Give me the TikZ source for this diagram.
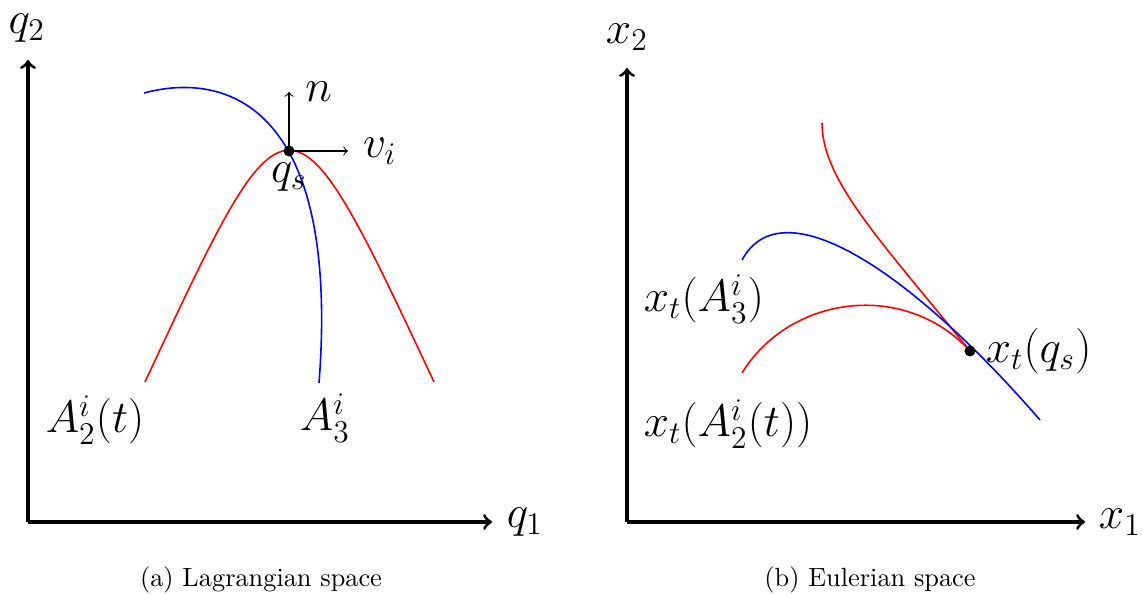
\documentclass[tikz,border=0pt]{standalone}
\usepackage{amsmath}
\usepackage{amssymb}
\usetikzlibrary{arrows}
\usetikzlibrary{positioning}

\begin{document}
\begin{tikzpicture}[x=0.38pt, y=0.38pt,
	axis/.style={->, very thick},
	vec/.style={->},
	curve/.style={semithick},
	lbl/.style={font=\fontsize{18}{22}\selectfont, inner sep=2pt},
	dot/.style={circle, fill, inner sep=0pt, minimum size=4.2pt}]

	\useasboundingbox (0,0) rectangle (1143,594);

	%Lagrangian space

	\coordinate (O1) at (28,72);
	\coordinate (q2tip) at (28,534);
	\coordinate (q1tip) at (492,72);
	\draw[axis] (O1) -- (q2tip);
	\draw[axis] (O1) -- (q1tip);
	\node[lbl] (q2) at (27,566) {$q_2$};
	\node[lbl] (q1) at (525,72) {$q_1$};

	\coordinate (qs) at (289,443);
	\draw[curve, red] (145,212) .. controls (289,521) .. (434,212);
	\draw[curve, blue] (144,501) .. controls (230,524) and (340,484) .. (319,211);
	\coordinate (ntip) at (289,502);
	\coordinate (vtip) at (348,443);
	\draw[vec] (qs) -- (ntip);
	\draw[vec] (qs) -- (vtip);
	\node[dot] (qsdot) at (qs) {};
	\node[lbl, right=4pt of ntip] (n) {$n$};
	\node[lbl, right=3.5pt of vtip] (vi) {$v_i$};
	\node[lbl, below=0pt of qsdot] (qslbl) {$q_s$};
	\node[lbl] (A2) at (95,174) {$A_2^i(t)$};
	\node[lbl] (A3) at (325,176) {$A_3^i$};

	\node (capa) at (261,14) {(a) Lagrangian space};

	%Eulerian space

	\coordinate (O2) at (627,72);
	\coordinate (x2tip) at (627,526);
	\coordinate (x1tip) at (1085,72);
	\draw[axis] (O2) -- (x2tip);
	\draw[axis] (O2) -- (x1tip);
	\node[lbl] (x2) at (627,557) {$x_2$};
	\node[lbl] (x1) at (1120,72) {$x_1$};

	\coordinate (xq) at (970,243);
	\draw[curve, red] (822,471) .. controls (822,414) and (880,354) .. (xq);
	\draw[curve, red] (742,221) .. controls (790,299) and (905,314) .. (xq);
	\draw[curve, blue] (742,334) .. controls (782,408) and (910,324) .. (1040,174);
	\node[dot] (xqdot) at (xq) {};
	\node[lbl, right=1.5pt of xqdot] (xqlbl) {$x_t(q_s)$};
	\node[lbl, anchor=west] (xA3) at (638,295) {$x_t(A_3^i)$};
	\node[lbl, anchor=west] (xA2) at (638,170) {$x_t(A_2^i(t))$};

	\node (capb) at (870,14) {(b) Eulerian space};

\end{tikzpicture}
\end{document}
